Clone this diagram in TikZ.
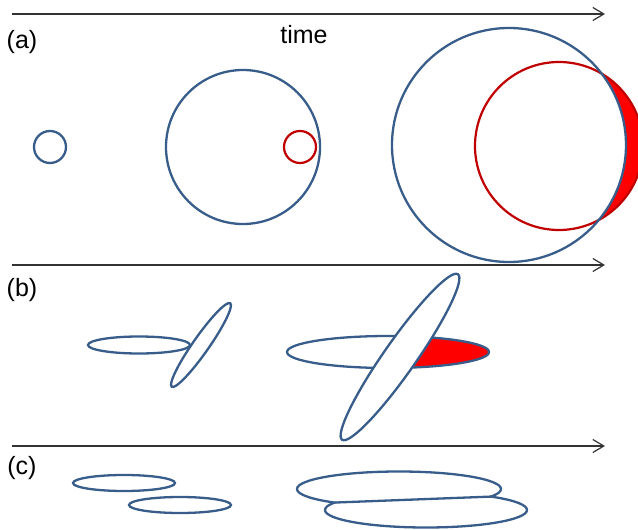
\documentclass[tikz,border=0pt]{standalone}
\usepackage{fontspec}
\setmainfont{Liberation Sans}
\usepackage{xcolor}
\usetikzlibrary{arrows.meta,intersections}
\definecolor{cellblue}{RGB}{56,93,138}
\definecolor{cellred}{RGB}{192,0,0}

\begin{document}
\begin{tikzpicture}[x=1pt,y=-1pt]
            \tikzset{
                timeaxis/.style={
                    draw=black!80,
                    line width=1.2pt,
                    -{Straight Barb[length=11pt,width=13pt,line width=1.2pt]}
                }
            }
            \tikzset{
                cell/.style={
                    draw=cellblue,
                    line width=2.3pt
                }
            }
            \tikzset{
                spot/.style={
                    draw=cellred,
                    line width=2.2pt
                }
            }
            \tikzset{
                tag/.style={
                    inner sep=0pt,
                    font=\fontsize{25}{28}\selectfont
                }
            }

            \clip (0,0) rectangle (638,530);

            \coordinate (T0) at (12,14);
            \coordinate (T1) at (605,14);
            \coordinate (B0) at (12,265);
            \coordinate (B1) at (605,265);
            \coordinate (C0) at (12,446);
            \coordinate (C1) at (605,446);

            \draw[timeaxis] (T0) -- (T1);
            \draw[timeaxis] (B0) -- (B1);
            \draw[timeaxis] (C0) -- (C1);

            \node[tag] (time) at (304,35) {time};
            \node[tag] (LA) at (22,42) {(a)};
            \node[tag] (LB) at (22,290) {(b)};
            \node[tag] (LC) at (22,468) {(c)};

            \draw[cell] (50,147) circle[radius=16pt];
            \draw[cell] (243,147) circle[radius=77pt];
            \draw[spot] (300,147) circle[radius=16pt];

            \begin{scope}[even odd rule]
                \clip (0,0) rectangle (638,530) (509,145) circle[radius=117pt];
                \fill[red] (559,146) circle[radius=84pt];
            \end{scope}
            \draw[spot] (559,146) circle[radius=84pt];
            \draw[cell] (509,145) circle[radius=117pt];

            \draw[cell] (139,345) ellipse[x radius=51pt,y radius=8.5pt];
            \draw[cell,fill=white,rotate around={55:(201,345)}] (201,345) ellipse[x radius=51pt,y radius=8pt];

            \begin{scope}
                \clip (400,320) rectangle (500,380);
                \fill[red] (388,352) ellipse[x radius=101pt,y radius=16pt];
            \end{scope}
            \draw[cell] (388,352) ellipse[x radius=101pt,y radius=16pt];
            \draw[cell,fill=white,rotate around={55:(400,357)}] (400,357) ellipse[x radius=101pt,y radius=16pt];

            \draw[cell] (124,483) ellipse[x radius=51pt,y radius=8pt];
            \draw[cell] (180,505) ellipse[x radius=51pt,y radius=8pt];

            \path[name path=upper] (399,489) ellipse[x radius=102pt,y radius=17.5pt];
            \path[name path=lower] (426,510) ellipse[x radius=101pt,y radius=17.5pt];
            \path[name intersections={of=upper and lower,by={J1,J2}}];
            \begin{scope}[even odd rule]
                \clip (0,0) rectangle (638,530) (426,510) ellipse[x radius=101pt,y radius=17.5pt];
                \draw[cell] (399,489) ellipse[x radius=102pt,y radius=17.5pt];
            \end{scope}
            \begin{scope}[even odd rule]
                \clip (0,0) rectangle (638,530) (399,489) ellipse[x radius=102pt,y radius=17.5pt];
                \draw[cell] (426,510) ellipse[x radius=101pt,y radius=17.5pt];
            \end{scope}
            \draw[cell] (J1) -- (J2);
\end{tikzpicture}
\end{document}
